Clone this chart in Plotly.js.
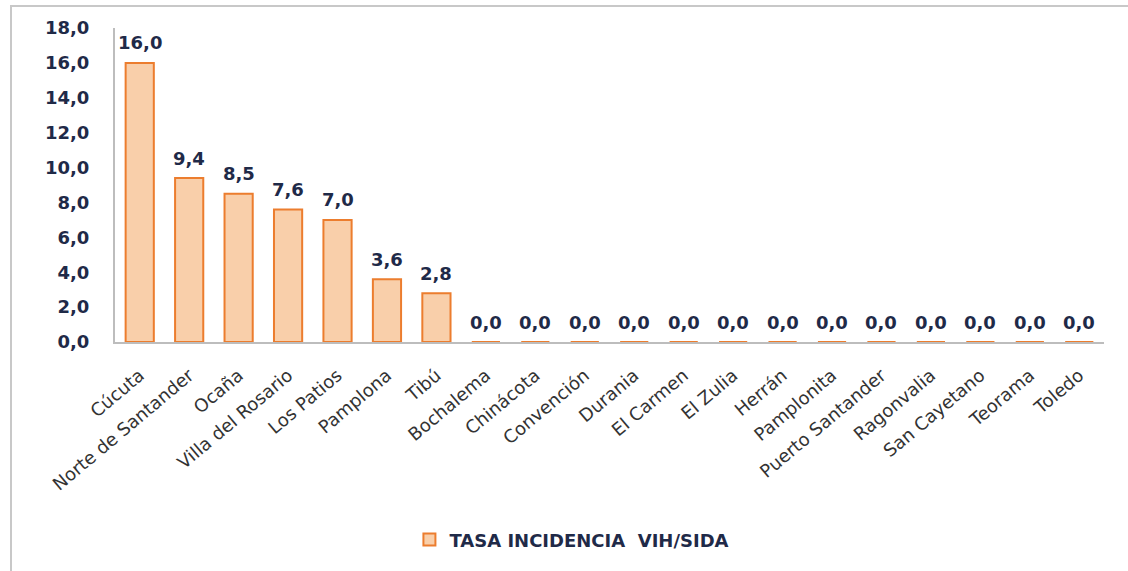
<!DOCTYPE html>
<html>
<head>
<meta charset="utf-8">
<script src="https://cdn.plot.ly/plotly-3.0.1.min.js"></script>
<style>
  html, body { margin: 0; padding: 0; background: #fff; }
  #frame { position: absolute; left: 10px; top: 5px; width: 1118px; height: 566px;
           border-top: 2px solid #c8c8c8; border-left: 2px solid #c8c8c8; box-sizing: border-box; }
  #chart { position: absolute; left: 0; top: 0; width: 1128px; height: 571px; }
</style>
</head>
<body>
<div id="frame"></div>
<div id="chart"></div>
<script>
const categories = ["Cúcuta", "Norte de Santander", "Ocaña", "Villa del Rosario", "Los Patios",
  "Pamplona", "Tibú", "Bochalema", "Chinácota", "Convención", "Durania", "El Carmen",
  "El Zulia", "Herrán", "Pamplonita", "Puerto Santander", "Ragonvalia", "San Cayetano",
  "Teorama", "Toledo"];
const tasaIncidencia = [16.0, 9.4, 8.5, 7.6, 7.0, 3.6, 2.8, 0, 0, 0, 0, 0, 0, 0, 0, 0, 0, 0, 0, 0];
const seriesName = "TASA INCIDENCIA\u00a0\u00a0VIH/SIDA";
const yTicks = [0, 2, 4, 6, 8, 10, 12, 14, 16, 18];

const labelFont = { family: "DejaVu Sans, sans-serif", size: 18, color: "#1f2a48", weight: 600 };

const trace = {
  type: "bar",
  x: categories,
  y: tasaIncidencia,
  name: seriesName,
  marker: { color: "#f9cfaa", line: { color: "#ec7d2e", width: 2 } },
  hoverinfo: "x+y"
};

const annotations = categories.map((c, i) => ({
  x: c, y: tasaIncidencia[i], xref: "x", yref: "y",
  text: tasaIncidencia[i].toFixed(1).replace(".", ","),
  showarrow: false, yanchor: "middle", yshift: 20,
  font: labelFont
}));

const layout = {
  width: 1128, height: 571,
  margin: { l: 115, r: 24, t: 28, b: 226 },
  paper_bgcolor: "rgba(0,0,0,0)",
  plot_bgcolor: "rgba(0,0,0,0)",
  separators: ",.",
  bargap: 0.43,
  showlegend: true,
  annotations: annotations,
  legend: {
    orientation: "h", x: 0.462, xanchor: "center", y: -0.63, yanchor: "middle",
    font: { family: "DejaVu Sans, sans-serif", size: 18, color: "#1f2a48", weight: 600 }
  },
  xaxis: {
    automargin: false,
    tickangle: -40,
    showline: true, linecolor: "#bdbdbd", linewidth: 2,
    ticks: "", showgrid: false,
    ticklabelstandoff: 14,
    tickfont: { family: "DejaVu Sans, sans-serif", size: 18, color: "#333333" }
  },
  yaxis: {
    automargin: false,
    range: [0, 18],
    tickvals: yTicks,
    tickformat: ".1f",
    showline: true, linecolor: "#bdbdbd", linewidth: 2,
    ticks: "", showgrid: false, zeroline: false,
    ticklabelstandoff: 20,
    tickfont: labelFont
  }
};

Plotly.newPlot("chart", [trace], layout, { displayModeBar: false, staticPlot: true });
</script>
</body>
</html>
